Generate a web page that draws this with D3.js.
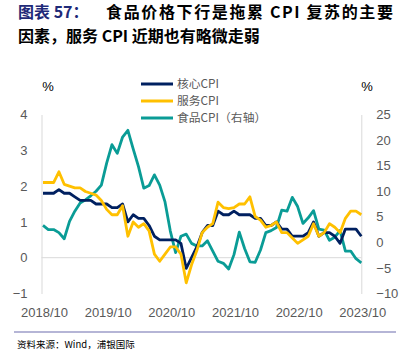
<!DOCTYPE html>
<html>
<head>
<meta charset="utf-8">
<script src="https://cdn.jsdelivr.net/npm/d3@7"></script>
<style>
  body { margin: 0; background: #fff; }
  svg { display: block; }
</style>
</head>
<body>
<svg id="chart" width="409" height="354"></svg>
<script>
// Monthly values, 2018/10 .. 2023/10 (61 months)
const coreCPI = [1.8, 1.8, 1.8, 1.9, 1.8, 1.8, 1.7, 1.6, 1.6, 1.6, 1.5, 1.5,
  1.5, 1.4, 1.4, 1.5, 1.0, 1.2, 1.1, 1.1, 0.9, 0.6, 0.5, 0.5,
  0.5, 0.5, 0.4, -0.3, 0.0, 0.3, 0.7, 0.9, 0.9, 1.3, 1.2, 1.2,
  1.3, 1.2, 1.2, 1.2, 1.1, 1.1, 0.9, 0.9, 1.0, 0.8, 0.8, 0.6,
  0.6, 0.6, 0.7, 1.0, 0.6, 0.7, 0.7, 0.6, 0.4, 0.8, 0.8, 0.8, 0.6];
const serviceCPI = [2.1, 2.1, 2.1, 2.4, 2.05, 2.0, 1.95, 1.95, 1.85, 1.8, 1.75, 1.6,
  1.35, 1.2, 1.2, 1.45, 0.6, 1.0, 0.85, 0.95, 0.75, 0.1, -0.1, 0.1,
  0.3, 0.3, 0.1, -0.7, -0.2, 0.2, 0.7, 0.85, 0.95, 1.55, 1.4, 1.37,
  1.4, 1.5, 1.5, 1.7, 1.15, 1.05, 0.85, 0.9, 1.0, 0.7, 0.7, 0.55,
  0.4, 0.5, 0.6, 0.95, 0.6, 0.7, 0.95, 0.85, 0.7, 1.1, 1.3, 1.3, 1.2];
const foodCPI = [3.3, 2.5, 2.5, 1.9, 0.7, 4.1, 6.1, 7.7, 8.3, 9.1, 10.0, 11.2,
  15.5, 19.1, 17.4, 20.6, 21.9, 18.3, 14.8, 10.6, 11.1, 13.2, 11.2, 7.9,
  2.2, -2.0, 1.2, 1.6, -0.2, -0.7, -0.7, 0.3, -1.7, -3.7, -4.1, -5.2,
  -2.4, 2.0, -1.2, -3.8, -3.9, -1.5, 1.9, 2.3, 2.9, 6.3, 6.1, 8.8,
  7.0, 3.7, 4.8, 6.2, 2.6, 2.4, 0.4, 1.0, 2.3, -1.7, -1.7, -3.2, -4.0];

const xTickLabels = ["2018/10", "2019/10", "2020/10", "2021/10", "2022/10", "2023/10"];
const leftTicks = [-1, 0, 1, 2, 3, 4];
const rightTicks = [-10, -5, 0, 5, 10, 15, 20, 25];
const seriesNames = ["核心CPI", "服务CPI", "食品CPI（右轴）"];

// month labels yyyy/mm from 2018/10
const months = d3.range(coreCPI.length).map(function(i) {
  let m = 9 + i;
  return (2018 + Math.floor(m / 12)) + "/" + String(m % 12 + 1).padStart(2, "0");
});

let plot = { left: 41.5, right: 361.3, top: 114.5, bottom: 293.5 };
let colors = ["#002060", "#ffc000", "#0a9c96"];
let tickFont = "'Liberation Sans', Arial, sans-serif";
let cjkFont = "'Noto Sans CJK SC', sans-serif";

let svg = d3.select("#chart");

// Scales
let x = d3.scalePoint().domain(months).range([43, plot.right]);
let yLeft = d3.scaleLinear().domain([-1, 4]).range([plot.bottom, plot.top]);
let yRight = d3.scaleLinear().domain([-10, 25]).range([plot.bottom, plot.top]);

// Title
svg.append("text")
  .attr("x", 18).attr("y", 17.5)
  .style("font-family", cjkFont).style("font-weight", "bold")
  .style("font-size", "16px").attr("fill", "#1f2a78")
  .text("图表 57：");
svg.append("text")
  .attr("x", 106).attr("y", 17.5)
  .attr("textLength", 287).attr("lengthAdjust", "spacing")
  .style("font-family", cjkFont).style("font-weight", "bold")
  .style("font-size", "16px").attr("fill", "#000")
  .text("食品价格下行是拖累 CPI 复苏的主要");
svg.append("text")
  .attr("x", 18).attr("y", 41.5)
  .style("font-family", cjkFont).style("font-weight", "bold")
  .style("font-size", "16px").attr("fill", "#000")
  .text("因素，服务 CPI 近期也有略微走弱");

// Zero gridline (left axis)
svg.append("line")
  .attr("x1", plot.left).attr("x2", plot.right)
  .attr("y1", yLeft(0)).attr("y2", yLeft(0))
  .attr("stroke", "#d9d9d9").attr("stroke-width", 1);

// Left axis
let gLeft = svg.append("g")
  .attr("transform", "translate(" + plot.left + ",0)")
  .call(d3.axisLeft(yLeft).tickValues(leftTicks).tickFormat(d3.format("d"))
    .tickSize(0).tickPadding(14));
// Right axis
let gRight = svg.append("g")
  .attr("transform", "translate(" + plot.right + ",0)")
  .call(d3.axisRight(yRight).tickValues(rightTicks).tickFormat(d3.format("d"))
    .tickSize(0).tickPadding(15));
// Bottom labels
let gBottom = svg.append("g")
  .attr("transform", "translate(1,293.5)")
  .call(d3.axisBottom(x).tickValues(months.filter(function(d, i) { return i % 12 === 0; }))
    .tickFormat(function(d, i) { return xTickLabels[i]; })
    .tickSize(0).tickPadding(14));
gBottom.select(".domain").remove();

[gLeft, gRight, gBottom].forEach(function(g) {
  g.select(".domain").attr("stroke", "#d9d9d9");
  g.selectAll("text")
    .style("font-family", tickFont).style("font-size", "13px")
    .attr("fill", "#595959");
});

// Unit labels
svg.append("text").attr("x", 48).attr("y", 91)
  .attr("text-anchor", "middle")
  .style("font-family", tickFont).style("font-size", "13px")
  .text("%");
svg.append("text").attr("x", 367).attr("y", 91)
  .attr("text-anchor", "middle")
  .style("font-family", tickFont).style("font-size", "13px")
  .text("%");

// Lines
let lineLeft = d3.line()
  .x(function(d, i) { return x(months[i]); })
  .y(function(d) { return yLeft(d); });
let lineRight = d3.line()
  .x(function(d, i) { return x(months[i]); })
  .y(function(d) { return yRight(d); });

svg.append("path").datum(foodCPI)
  .attr("fill", "none").attr("stroke", colors[2])
  .attr("stroke-width", 2.8).attr("stroke-linejoin", "round")
  .attr("d", lineRight);
svg.append("path").datum(coreCPI)
  .attr("fill", "none").attr("stroke", colors[0])
  .attr("stroke-width", 2.8).attr("stroke-linejoin", "round")
  .attr("d", lineLeft);
svg.append("path").datum(serviceCPI)
  .attr("fill", "none").attr("stroke", colors[1])
  .attr("stroke-width", 2.8).attr("stroke-linejoin", "round")
  .attr("d", lineLeft);

// Legend
let legend = svg.append("g");
seriesNames.forEach(function(name, i) {
  let ly = 84 + i * 17;
  legend.append("line")
    .attr("x1", 141).attr("x2", 173)
    .attr("y1", ly).attr("y2", ly)
    .attr("stroke", colors[i]).attr("stroke-width", 3);
  legend.append("text")
    .attr("x", 177).attr("y", ly + 4.3)
    .style("font-family", cjkFont).style("font-size", "11.8px")
    .attr("fill", "#595959")
    .text(name);
});

// Source
svg.append("line")
  .attr("x1", 14).attr("x2", 396)
  .attr("y1", 332).attr("y2", 332)
  .attr("stroke", "#9d9dc8").attr("stroke-width", 1.5);
svg.append("text")
  .attr("x", 17).attr("y", 348)
  .style("font-family", cjkFont).style("font-size", "9.5px")
  .attr("fill", "#000")
  .text("资料来源：Wind，浦银国际");
</script>
</body>
</html>
